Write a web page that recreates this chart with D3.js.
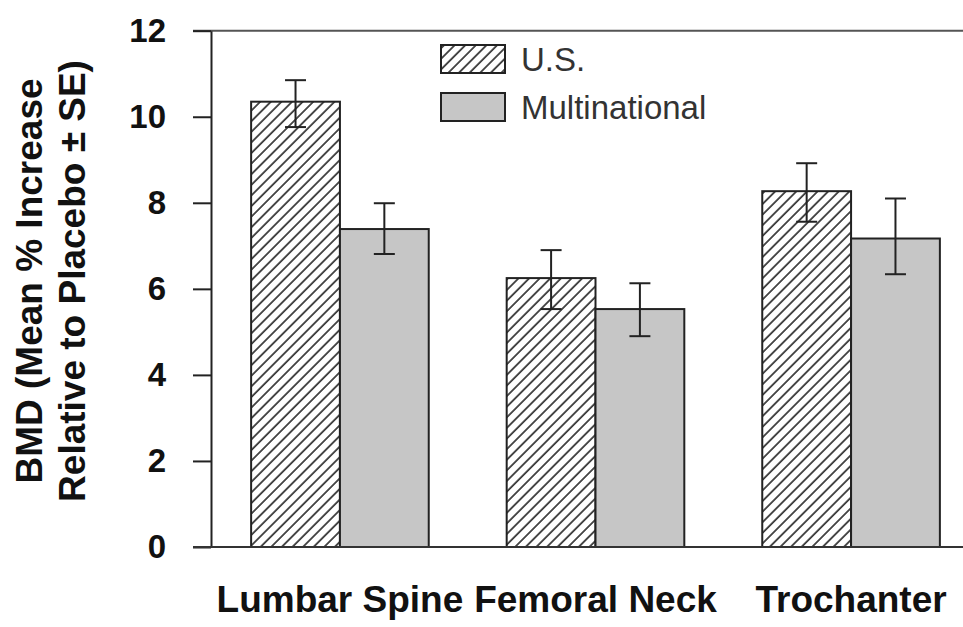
<!DOCTYPE html>
<html><head><meta charset="utf-8">
<script src="https://cdn.jsdelivr.net/npm/d3@7"></script>
<style>body{margin:0;background:#fff}svg{display:block}</style>
</head><body><svg id="c" width="963" height="627"></svg>
<script>
const categories = ["Lumbar Spine", "Femoral Neck", "Trochanter"];
const seriesNames = ["U.S.", "Multinational"];
const usValues = [10.35, 6.25, 8.27];
const usLow = [9.76, 5.53, 7.56];
const usHigh = [10.85, 6.9, 8.92];
const multiValues = [7.39, 5.53, 7.17];
const multiLow = [6.81, 4.9, 6.34];
const multiHigh = [7.99, 6.13, 8.1];
const yTicks = [0, 2, 4, 6, 8, 10, 12];

const W = 963, H = 627;
const svg = d3.select("#c");
const font = "'Liberation Sans', Arial, sans-serif";

const x0 = 211, yTop = 30.7, yBot = 547;
const y = d3.scaleLinear().domain([0, 12]).range([yBot, yTop]);
const x = d3.scaleBand().domain(categories).range([x0, 980]).paddingInner(0.305).paddingOuter(0.157);
const xs = d3.scaleBand().domain(seriesNames).range([0, x.bandwidth()]);

const defs = svg.append("defs");
const pat = defs.append("pattern").attr("id", "hatch").attr("patternUnits", "userSpaceOnUse")
  .attr("width", 7.5).attr("height", 7.5).attr("patternTransform", "rotate(45)");
pat.append("rect").attr("width", 7.5).attr("height", 7.5).attr("fill", "#fff");
pat.append("line").attr("x1", 1).attr("y1", 0).attr("x2", 1).attr("y2", 7.5)
  .attr("stroke", "#3a3a3a").attr("stroke-width", 1.8);

const data = categories.map((c, i) => [
  {cat: c, s: "U.S.", v: usValues[i], lo: usLow[i], hi: usHigh[i]},
  {cat: c, s: "Multinational", v: multiValues[i], lo: multiLow[i], hi: multiHigh[i]}
]).flat();

// top border line
svg.append("line").attr("x1", 193).attr("x2", W).attr("y1", y(12)).attr("y2", y(12))
  .attr("stroke", "#555").attr("stroke-width", 2);

// bars
svg.append("g").selectAll("rect").data(data).join("rect")
  .attr("x", d => x(d.cat) + xs(d.s))
  .attr("y", d => y(d.v))
  .attr("width", xs.bandwidth())
  .attr("height", d => y(0) - y(d.v))
  .attr("fill", d => d.s === "U.S." ? "url(#hatch)" : "#c6c6c6")
  .attr("stroke", "#222").attr("stroke-width", 2);

// error bars
const eb = svg.append("g").selectAll("g").data(data).join("g")
  .attr("transform", d => `translate(${x(d.cat) + xs(d.s) + xs.bandwidth() / 2},0)`);
eb.append("line").attr("y1", d => y(d.lo)).attr("y2", d => y(d.hi)).attr("stroke", "#222").attr("stroke-width", 2);
eb.append("line").attr("x1", -10.5).attr("x2", 10.5).attr("y1", d => y(d.hi)).attr("y2", d => y(d.hi)).attr("stroke", "#222").attr("stroke-width", 2);
eb.append("line").attr("x1", -10.5).attr("x2", 10.5).attr("y1", d => y(d.lo)).attr("y2", d => y(d.lo)).attr("stroke", "#222").attr("stroke-width", 2);

// y axis
const ya = svg.append("g").attr("transform", `translate(${x0},0)`)
  .call(d3.axisLeft(y).tickValues(yTicks).tickSize(18).tickSizeOuter(0).tickPadding(27).tickFormat(d3.format("d")));
ya.select(".domain").attr("stroke", "#222").attr("stroke-width", 2);
ya.selectAll(".tick line").attr("stroke", "#222").attr("stroke-width", 2);
ya.selectAll("text").attr("font-family", font).attr("font-size", 33).attr("font-weight", "bold").attr("fill", "#111");

// bottom line
svg.append("line").attr("x1", 193).attr("x2", W).attr("y1", yBot).attr("y2", yBot)
  .attr("stroke", "#333").attr("stroke-width", 2);

// x axis labels
const xa = svg.append("g").attr("transform", `translate(0,${yBot})`)
  .call(d3.axisBottom(x).tickSize(0).tickPadding(39));
xa.select(".domain").remove();
xa.selectAll("text").attr("font-family", font).attr("font-size", 37).attr("font-weight", "bold").attr("fill", "#111");

// y title
const yt = svg.append("text").attr("transform", "translate(0,281) rotate(-90)")
  .attr("text-anchor", "middle").attr("font-family", font).attr("font-size", 37).attr("font-weight", "bold").attr("fill", "#111");
yt.append("tspan").attr("x", 0).attr("y", 42).text("BMD (Mean % Increase");
yt.append("tspan").attr("x", 0).attr("y", 85).text("Relative to Placebo ± SE)");

// legend
const lg = svg.append("g");
seriesNames.forEach((s, i) => {
  const gy = 45 + i * 48;
  lg.append("rect").attr("x", 441).attr("y", gy).attr("width", 64).attr("height", 28)
    .attr("fill", i === 0 ? "url(#hatch)" : "#c6c6c6").attr("stroke", "#222").attr("stroke-width", 2);
  lg.append("text").attr("x", 521).attr("y", gy + 26).text(s)
    .attr("font-family", font).attr("font-size", 33).attr("fill", "#333");
});
</script></body></html>
